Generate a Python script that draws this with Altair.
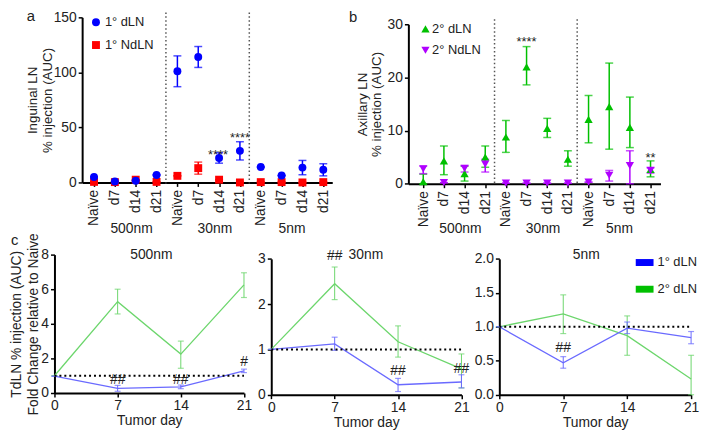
import altair as alt
import pandas as pd

FONT = "Liberation Sans"
INK = "#222222"

# ---------------- data ----------------
CATEGORIES = ["Naïve", "d7", "d14", "d21"] * 3
GROUPS = ["500nm", "30nm", "5nm"]

# panel a : Inguinal LN % injection (AUC)
A_NAMES = ["1° dLN", "1° NdLN"]
A_DLN_MEAN = [5.0, 0.8, 1.5, 6.8, 101.0, 114.0, 22.2, 28.7, 14.0, 6.3, 13.5, 11.5]
A_DLN_LO = [5.0, 0.8, 1.5, 6.8, 87.0, 104.5, 17.5, 20.4, 14.0, 6.3, 7.0, 6.0]
A_DLN_HI = [5.0, 0.8, 1.5, 6.8, 115.0, 123.5, 27.0, 37.0, 14.0, 6.3, 20.0, 17.0]
A_NDLN_MEAN = [0.5, 0.3, 2.5, 0.5, 6.0, 13.0, 2.5, 0.0, 0.3, 0.3, 0.0, 0.3]
A_NDLN_LO = [0.5, 0.3, 2.5, 0.5, 6.0, 7.5, 2.5, 0.0, 0.3, 0.3, 0.0, 0.3]
A_NDLN_HI = [0.5, 0.3, 2.5, 0.5, 6.0, 18.5, 2.5, 0.0, 0.3, 0.3, 0.0, 0.3]
A_STAR_TEXT = ["****", "****"]
A_STAR_X = [5.95, 7]
A_STAR_Y = [25.0, 40.5]

# panel b : Axillary LN % injection (AUC)
B_NAMES = ["2° dLN", "2° NdLN"]
B_DLN_MEAN = [0.4, 4.3, 1.9, 5.0, 8.8, 22.0, 10.4, 4.6, 12.1, 14.5, 10.6, 2.7]
B_DLN_LO = [0.0, 1.7, 0.5, 3.1, 5.9, 18.6, 8.7, 3.3, 7.7, 6.5, 6.8, 1.3]
B_DLN_HI = [1.8, 7.1, 3.3, 7.1, 11.9, 25.8, 12.3, 6.2, 16.6, 22.7, 16.3, 4.3]
B_NDLN_MEAN = [2.8, 0.2, 2.9, 3.7, 0.1, 0.1, 0.1, 0.1, 0.3, 1.6, 3.4, 2.5]
B_NDLN_LO = [1.9, 0.2, 2.2, 2.2, 0.1, 0.1, 0.1, 0.1, 0.3, 0.5, 0.0, 2.0]
B_NDLN_HI = [3.3, 0.2, 3.4, 4.6, 0.1, 0.1, 0.1, 0.1, 0.3, 2.5, 6.2, 3.0]
B_STAR_TEXT = ["****", "**"]
B_STAR_X = [5, 11]
B_STAR_Y = [26.6, 4.8]

# panel c : TdLN fold change relative to naive
C_DAYS = [0, 7, 14, 21]
C_NAMES = ["1° dLN", "2° dLN"]
C1_P_MEAN = [0.97, 0.27, 0.35, 1.28]
C1_P_LO = [0.97, 0.10, 0.25, 1.18]
C1_P_HI = [0.97, 0.44, 0.46, 1.38]
C1_S_MEAN = [1.0, 5.28, 2.25, 6.25]
C1_S_LO = [1.0, 4.57, 1.43, 5.52]
C1_S_HI = [1.0, 6.00, 3.00, 6.95]
C1_MARK_TEXT = ["##", "##", "#"]
C1_MARK_X = [7, 14, 21]
C1_MARK_Y = [0.76, 0.76, 1.81]

C2_P_MEAN = [1.0, 1.12, 0.22, 0.28]
C2_P_LO = [1.0, 0.98, 0.07, 0.15]
C2_P_HI = [1.0, 1.27, 0.36, 0.44]
C2_S_MEAN = [1.0, 2.45, 1.17, 0.57]
C2_S_LO = [1.0, 2.10, 0.83, 0.15]
C2_S_HI = [1.0, 2.82, 1.52, 0.90]
C2_MARK_TEXT = ["##", "##", "##"]
C2_MARK_X = [7, 14, 21]
C2_MARK_Y = [3.06, 0.52, 0.56]

C3_P_MEAN = [1.0, 0.47, 0.98, 0.84]
C3_P_LO = [1.0, 0.39, 0.90, 0.75]
C3_P_HI = [1.0, 0.56, 1.07, 0.93]
C3_S_MEAN = [1.0, 1.19, 0.87, 0.23]
C3_S_LO = [1.0, 0.90, 0.58, 0.00]
C3_S_HI = [1.0, 1.47, 1.16, 0.58]
C3_MARK_TEXT = ["##"]
C3_MARK_X = [7]
C3_MARK_Y = [0.68]

REFERENCE = 1.0

# ---------------- layout (pixels inside the single view) ----------------
W, H = 700, 426
IDX = list(range(len(CATEGORIES)))
LABEL_EXPR = "[" + ",".join("'" + c + "'" for c in CATEGORIES) + "][datum.value]"
LABEL_SIZE = 14
GROUP_SHIFT = [1.8, 1.8, 1.5]   # where each group caption sits inside its block of 4

AXIS_STYLE = dict(domainWidth=2, domainColor="black", tickColor="black", tickWidth=1.5,
                  tickSize=4, labelPadding=2, labelFontSize=LABEL_SIZE, labelColor=INK,
                  labelFont=FONT, titleFont=FONT, grid=False, labelFlush=False,
                  labelOverlap=False)


def sc(dom, rng):
    return alt.Scale(domain=dom, range=rng, nice=False, zero=False)


def one(text):
    return pd.DataFrame({"t": [text]})


def text_at(text, x, y, size=13, align="center", baseline="middle", color=INK):
    return alt.Chart(one(text)).mark_text(
        fontSize=size, align=align, baseline=baseline, color=color, font=FONT
    ).encode(text="t:N", x=alt.value(x), y=alt.value(y))


def frame(xs, mean, lo, hi):
    return pd.DataFrame({"x": xs, "y": mean, "lo": lo, "hi": hi})


def y_axis(offset, values, title, tx, ty, lh, size=13.5, fmt=None):
    kw = dict(AXIS_STYLE)
    kw.update(orient="left", offset=offset, values=values, title=title, titleX=tx, titleY=ty,
              titleAngle=270, titleAlign="center", titleBaseline="top", titleLineHeight=lh,
              titleFontSize=size, titleFontWeight="normal", titleColor=INK)
    if fmt:
        kw["format"] = fmt
    return alt.Axis(**kw)


def category_layers(xr, yr, ydom, yvals, ytitle, tx, lh, xdom, series, names, stars,
                    group_y, legend_x, legend_text_x, legend_ys):
    xs = sc(xdom, xr)
    ys = sc(ydom, yr)
    xax = alt.Axis(orient="bottom", offset=yr[0] - H, values=IDX, labelExpr=LABEL_EXPR,
                   labelAngle=270, title=None, **{**AXIS_STYLE, "labelPadding": 3})
    yax = y_axis(-xr[0], yvals, ytitle, tx, (yr[0] + yr[1]) / 2, lh)
    out = []
    sep = pd.DataFrame({"x": [g * 4 - 0.55 for g in range(1, len(GROUPS))]})
    out.append(alt.Chart(sep).mark_rule(color="#555555", strokeWidth=1.5, strokeDash=[1.5, 2.5]).encode(
        x=alt.X("x:Q", scale=xs, axis=xax), y=alt.value(yr[1] - 5), y2=alt.value(yr[0] + 1)))
    first = True
    for df, color, shape, size in series:
        out.append(alt.Chart(df).mark_rule(color=color, strokeWidth=1.5).encode(
            x=alt.X("x:Q", scale=xs, axis=None),
            y=alt.Y("lo:Q", scale=ys, axis=yax if first else None), y2="hi:Q"))
        first = False
        for f in ["lo", "hi"]:
            out.append(alt.Chart(df).mark_tick(orient="horizontal", size=8, thickness=1.5, color=color).encode(
                x=alt.X("x:Q", scale=xs, axis=None), y=alt.Y(f + ":Q", scale=ys, axis=None)))
    for df, color, shape, size in series:
        out.append(alt.Chart(df).mark_point(shape=shape, filled=True, size=size, color=color, opacity=1).encode(
            x=alt.X("x:Q", scale=xs, axis=None), y=alt.Y("y:Q", scale=ys, axis=None)))
    st = pd.DataFrame({"t": stars[0], "x": stars[1], "y": stars[2]})
    out.append(alt.Chart(st).mark_text(fontSize=13, color=INK, baseline="middle", font=FONT).encode(
        text="t:N", x=alt.X("x:Q", scale=xs, axis=None), y=alt.Y("y:Q", scale=ys, axis=None)))
    gl = pd.DataFrame({"t": GROUPS, "x": [g * 4 + GROUP_SHIFT[g] for g in range(len(GROUPS))]})
    out.append(alt.Chart(gl).mark_text(fontSize=14, color=INK, baseline="middle", font=FONT).encode(
        text="t:N", x=alt.X("x:Q", scale=xs, axis=None), y=alt.value(group_y)))
    for (df, color, shape, size), name, ly in zip(series, names, legend_ys):
        out.append(alt.Chart(one(name)).mark_point(shape=shape, filled=True, size=size, color=color, opacity=1).encode(
            x=alt.value(legend_x), y=alt.value(ly)))
        out.append(text_at(name, legend_text_x, ly, size=13, align="left"))
    return out


P_LINE = "#6A6AFF"
S_LINE = "#6CD66C"


def time_layers(xr, yr, ydom, yvals, fmt, ytitle, series, marks, title, title_pos):
    xs = sc([0, 21], xr)
    ys = sc(ydom, yr)
    xax = alt.Axis(orient="bottom", offset=yr[0] - H, values=C_DAYS, title="Tumor day",
                   titleFontSize=14, titleFontWeight="normal", titleColor=INK,
                   titleY=21, titleBaseline="top", labelAngle=0, **AXIS_STYLE)
    if ytitle:
        yax = y_axis(-xr[0], yvals, ytitle, -45, (yr[0] + yr[1]) / 2, 17, size=14, fmt=fmt)
    else:
        yax = y_axis(-xr[0], yvals, None, 0, 0, 13, fmt=fmt)
    out = []
    first = True
    for df, color in series:
        out.append(alt.Chart(df).mark_line(color=color, strokeWidth=1.3).encode(
            x=alt.X("x:Q", scale=xs, axis=xax if first else None),
            y=alt.Y("y:Q", scale=ys, axis=yax if first else None)))
        first = False
        out.append(alt.Chart(df).mark_rule(color=color, strokeWidth=1).encode(
            x=alt.X("x:Q", scale=xs, axis=None), y=alt.Y("lo:Q", scale=ys, axis=None), y2="hi:Q"))
        for f in ["lo", "hi"]:
            out.append(alt.Chart(df).mark_tick(orient="horizontal", size=6, thickness=1.2, color=color).encode(
                x=alt.X("x:Q", scale=xs, axis=None), y=alt.Y(f + ":Q", scale=ys, axis=None)))
    ref = pd.DataFrame({"x": [C_DAYS[0]], "x2": [C_DAYS[-1]], "y": [REFERENCE]})
    out.append(alt.Chart(ref).mark_rule(color="black", strokeWidth=2, strokeDash=[2, 3]).encode(
        x=alt.X("x:Q", scale=xs, axis=None), x2="x2:Q", y=alt.Y("y:Q", scale=ys, axis=None)))
    mk = pd.DataFrame({"t": marks[0], "x": marks[1], "y": marks[2]})
    out.append(alt.Chart(mk).mark_text(fontSize=14, color=INK, baseline="middle", font=FONT).encode(
        text="t:N", x=alt.X("x:Q", scale=xs, axis=None), y=alt.Y("y:Q", scale=ys, axis=None)))
    out.append(text_at(title, title_pos[0], title_pos[1], size=14))
    return out


layers = []
# panel a
layers += category_layers(
    [75, 328], [174, 7], [0, 150], [0, 50, 100, 150], ["Inguinal LN", "% injection (AUC)"], -57, 15,
    [-0.57, 11.43],
    [(frame(IDX, A_NDLN_MEAN, A_NDLN_LO, A_NDLN_HI), "#FF0000", "square", 64),
     (frame(IDX, A_DLN_MEAN, A_DLN_LO, A_DLN_HI), "#0000FF", "circle", 64)],
    [A_NAMES[1], A_NAMES[0]], (A_STAR_TEXT, A_STAR_X, A_STAR_Y),
    221, 89, 98, [35, 12])
# panel b
layers += category_layers(
    [405, 660], [175.3, 14], [0, 30], [0, 10, 20, 30], ["Axillary LN", "% injection (AUC)"], -53, 13.5,
    [-0.72, 11.48],
    [(frame(IDX, B_DLN_MEAN, B_DLN_LO, B_DLN_HI), "#00C000", "triangle-up", 70),
     (frame(IDX, B_NDLN_MEAN, B_NDLN_LO, B_NDLN_HI), "#B000FF", "triangle-down", 70)],
    B_NAMES, (B_STAR_TEXT, B_STAR_X, B_STAR_Y),
    221, 422.3, 429, [18.7, 40.3])
# panel c
layers += time_layers([47, 238.7], [387, 247], [0, 8], [0, 2, 4, 6, 8], None,
                      ["TdLN % injection (AUC)", "Fold Change relative to Naive"],
                      [(frame(C_DAYS, C1_S_MEAN, C1_S_LO, C1_S_HI), S_LINE),
                       (frame(C_DAYS, C1_P_MEAN, C1_P_LO, C1_P_HI), P_LINE)],
                      (C1_MARK_TEXT, C1_MARK_X, C1_MARK_Y), GROUPS[0], (145, 247))
layers += time_layers([266.3, 458.7], [388.7, 251.3], [0, 3], [0, 1, 2, 3], None, None,
                      [(frame(C_DAYS, C2_S_MEAN, C2_S_LO, C2_S_HI), S_LINE),
                       (frame(C_DAYS, C2_P_MEAN, C2_P_LO, C2_P_HI), P_LINE)],
                      (C2_MARK_TEXT, C2_MARK_X, C2_MARK_Y), GROUPS[1], (362, 247))
layers += time_layers([497, 691], [388.7, 251.3], [0, 2], [0, 0.5, 1, 1.5, 2], ".1f", None,
                      [(frame(C_DAYS, C3_S_MEAN, C3_S_LO, C3_S_HI), S_LINE),
                       (frame(C_DAYS, C3_P_MEAN, C3_P_LO, C3_P_HI), P_LINE)],
                      (C3_MARK_TEXT, C3_MARK_X, C3_MARK_Y), GROUPS[2], (585, 247))

# legend of panel c
for name, col, ly in zip(C_NAMES, ["#0000FF", "#00C000"], [255, 282]):
    layers.append(alt.Chart(one(name)).mark_rect(color=col).encode(
        x=alt.value(635), x2=alt.value(653), y=alt.value(ly - 3.5), y2=alt.value(ly + 3.5)))
    layers.append(text_at(name, 657, ly, size=13, align="left"))

# panel letters
layers.append(text_at("a", 19, 11, size=15, align="left", baseline="alphabetic"))
layers.append(text_at("b", 345, 12, size=15, align="left", baseline="alphabetic"))
layers.append(text_at("c", 3, 237, size=15, align="left", baseline="alphabetic"))

chart = (alt.layer(*layers)
         .resolve_scale(x="independent", y="independent")
         .properties(width=W, height=H, padding=0,
                     autosize=alt.AutoSizeParams(type="none"))
         .configure_axis(labelFontSize=LABEL_SIZE, labelFont=FONT, titleFont=FONT)
         .configure_view(stroke=None))

chart.save("out.html", embed_options={"renderer": "svg", "actions": False})
